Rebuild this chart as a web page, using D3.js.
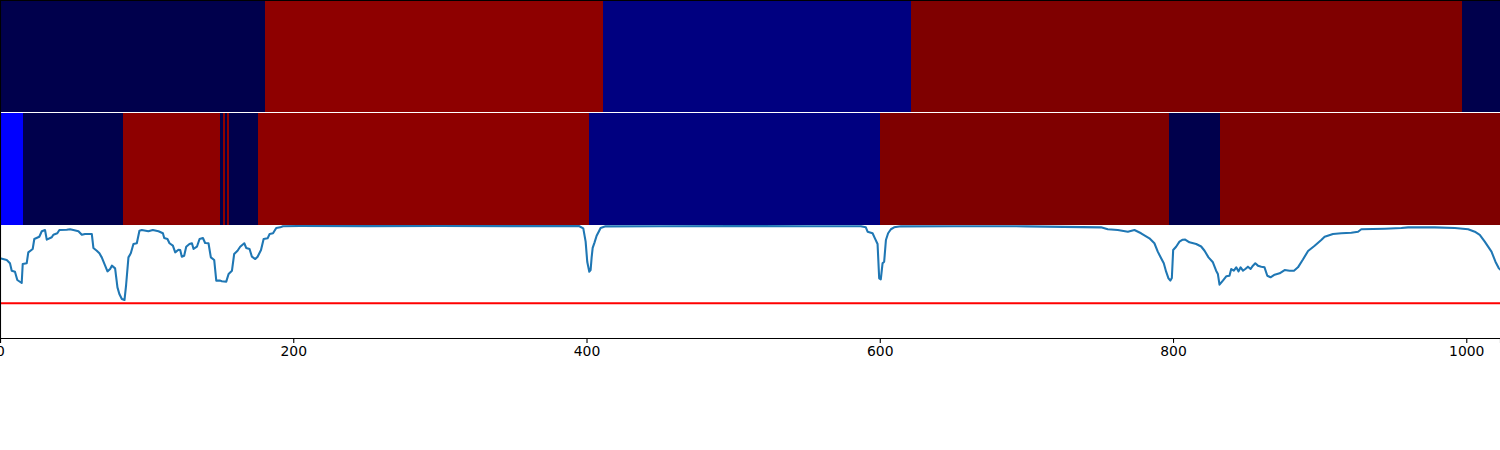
<!DOCTYPE html>
<html><head><meta charset="utf-8">
<script src="https://cdn.jsdelivr.net/npm/d3@7"></script>
<style>body{margin:0;background:#fff}svg{display:block}</style>
</head><body><svg id="c" width="1500" height="450"></svg>
<script>
// ---- data ----
const xMax = 1023;
const topBounds = [0, 181, 411, 621, 997, 1023];
const topClasses = ["dark", "red", "navy", "maroon", "dark"];
const midBounds = [0, 16, 84, 150, 152.3, 153.7, 154.8, 156.2, 176, 402, 600, 797, 832, 1023];
const midClasses = ["blue", "dark", "red", "dark", "red", "dark", "red", "dark", "red", "navy", "maroon", "dark", "maroon"];
const classNames = ["dark", "navy", "blue", "red", "maroon"];
const classColors = ["#00004c", "#000080", "#0000ff", "#8e0000", "#7f0000"];

const lineX = [0,4.6,6.8,8,10.2,11.8,14.8,15.5,18.2,19.3,22.3,23.4,26.8,28.5,30.7,31.9,35.3,36.4,39.1,40.5,45.5,47.8,50,53.5,55.8,58,62.6,63.7,66,67.8,69.4,71.7,73.3,75.1,76.3,78.5,80.1,81.4,83.1,84.9,86,87.6,89.2,91,93.3,95.1,96.7,101.2,104.2,108.1,111.1,112,114.2,115.6,117.9,119.5,121.7,122.9,124,125.6,127,129.2,130.9,132,134.3,136.1,138.4,139.9,142.2,143.8,146.1,147.5,150.2,151.3,154.3,155.9,158.2,159.7,162,163.8,166.6,167.9,170.2,171.8,174.1,175.7,178,179.8,182.5,183.9,186.2,188.4,191.1,193,204.8,250,300,350,394.8,397.8,399.4,400.5,401.9,402.8,403.5,404.2,405.5,406.9,408.5,409.6,413,450,500,550,587.1,590.5,591.7,595.1,596.7,598.5,599.6,600.7,601.9,603,604.2,605.7,607.6,609.8,614.4,650,700,750.9,755.5,762.3,769.2,773.7,778.2,783.9,787.3,789.6,791.9,793.7,795.3,796.9,798.2,799.2,800.1,802.1,804.4,806.6,808.3,811.2,815.8,819.2,821.5,824.2,827.2,829.4,830.6,831.7,834,836.3,838.5,839.7,841.5,843.1,844.7,846.1,847.7,849.3,851.1,852.9,854.5,856.1,857.9,860.2,862.4,864.3,866.5,869.3,872.7,876.1,879.5,882.5,885.2,888.6,892.1,896.6,901.1,903.4,909.1,914.8,921.6,926.2,928.4,944.4,955.7,960.3,978.5,992.2,1001.3,1005.8,1009.2,1012.6,1017.2,1019.9,1022.2,1023];
const lineY = [0.712,0.696,0.667,0.601,0.592,0.518,0.491,0.661,0.667,0.765,0.795,0.884,0.904,0.953,0.964,0.878,0.899,0.922,0.935,0.964,0.967,0.971,0.964,0.953,0.922,0.929,0.929,0.804,0.779,0.756,0.720,0.646,0.595,0.616,0.646,0.622,0.452,0.393,0.348,0.339,0.473,0.720,0.756,0.839,0.846,0.958,0.964,0.953,0.964,0.953,0.935,0.893,0.884,0.846,0.824,0.765,0.788,0.786,0.726,0.735,0.815,0.839,0.846,0.795,0.815,0.884,0.893,0.848,0.846,0.720,0.696,0.512,0.512,0.506,0.503,0.571,0.601,0.750,0.779,0.815,0.846,0.804,0.795,0.726,0.705,0.726,0.786,0.884,0.890,0.929,0.935,0.982,0.988,0.998,1.0,0.999,1.0,0.999,1.0,0.979,0.860,0.681,0.592,0.607,0.720,0.804,0.854,0.913,0.953,0.982,0.997,0.998,0.999,0.998,0.998,0.988,0.949,0.935,0.890,0.839,0.533,0.524,0.667,0.681,0.875,0.935,0.971,0.988,0.997,0.998,0.997,0.988,0.971,0.964,0.949,0.964,0.935,0.890,0.846,0.771,0.712,0.667,0.592,0.533,0.513,0.536,0.786,0.815,0.860,0.878,0.879,0.854,0.839,0.817,0.779,0.720,0.676,0.601,0.571,0.476,0.512,0.551,0.556,0.616,0.601,0.631,0.595,0.631,0.601,0.616,0.637,0.616,0.646,0.667,0.646,0.637,0.631,0.556,0.542,0.565,0.578,0.607,0.601,0.601,0.631,0.701,0.777,0.824,0.875,0.904,0.929,0.935,0.940,0.949,0.971,0.976,0.982,0.988,0.988,0.982,0.971,0.949,0.920,0.860,0.771,0.681,0.622,0.613];
const threshold = 0.31;
const xTicks = [0, 200, 400, 600, 800, 1000];

// ---- drawing ----
const svg = d3.select("#c");
const W = 1500;
const x = d3.scaleLinear().domain([0, xMax]).range([0, W]);
const color = d3.scaleOrdinal().domain(classNames).range(classColors);

const panels = [
  {bounds: topBounds, classes: topClasses, y0: 0, y1: 112},
  {bounds: midBounds, classes: midClasses, y0: 113, y1: 225}
];
panels.forEach(p => {
  const segs = p.classes.map((c, i) => ({a: p.bounds[i], b: p.bounds[i + 1], c}));
  svg.append("g").selectAll("rect").data(segs).join("rect")
    .attr("x", d => x(d.a))
    .attr("width", d => x(d.b) - x(d.a) + 0.3)
    .attr("y", p.y0)
    .attr("height", p.y1 - p.y0)
    .attr("fill", d => color(d.c))
    .attr("shape-rendering", "crispEdges");
});

const y = d3.scaleLinear().domain([0, 1]).range([338, 226]);
const pts = lineX.map((v, i) => [v, lineY[i]]);

svg.append("defs").append("clipPath").attr("id", "clip")
  .append("rect").attr("x", 0).attr("y", 225).attr("width", W).attr("height", 113);

svg.append("line")
  .attr("x1", x(0)).attr("x2", x(xMax))
  .attr("y1", y(threshold)).attr("y2", y(threshold))
  .attr("stroke", "#ff0000").attr("stroke-width", 2.08);

svg.append("path")
  .datum(pts)
  .attr("clip-path", "url(#clip)")
  .attr("fill", "none")
  .attr("stroke", "#1f77b4")
  .attr("stroke-width", 2.08)
  .attr("stroke-linejoin", "round")
  .attr("stroke-linecap", "square")
  .attr("d", d3.line().x(d => x(d[0])).y(d => y(d[1])));

// spines
svg.append("line").attr("x1", 0).attr("x2", W).attr("y1", 0.5).attr("y2", 0.5).attr("stroke", "#000").attr("stroke-width", 1.1);
svg.append("line").attr("x1", 0.5).attr("x2", 0.5).attr("y1", 0).attr("y2", 338).attr("stroke", "#000").attr("stroke-width", 1.1);

const ax = svg.append("g").attr("transform", "translate(0,338)")
  .call(d3.axisBottom(x).tickValues(xTicks).tickSize(4.9).tickPadding(3.5).tickFormat(d3.format("d")));
ax.select(".domain").attr("stroke", "#000").attr("stroke-width", 1.1);
ax.selectAll(".tick line").attr("stroke", "#000").attr("stroke-width", 1.1);
ax.selectAll("text").attr("font-family", "DejaVu Sans").attr("font-size", 13.9).attr("fill", "#000");
</script></body></html>
